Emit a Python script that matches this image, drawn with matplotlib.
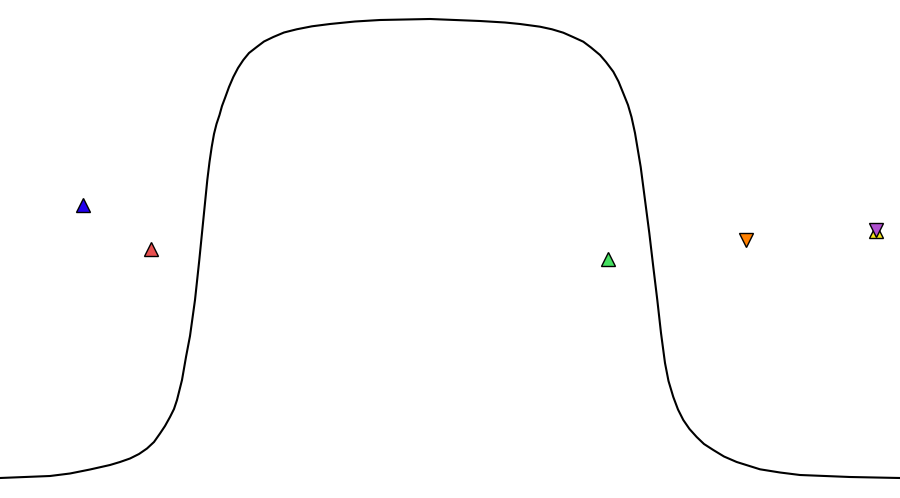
import numpy as np
import matplotlib
matplotlib.use("Agg")
import matplotlib.pyplot as plt

# ===================== DATA =====================
# plateau curve read off the picture; y is measured downward from the top edge
curve_x = [0, 50, 70, 90, 110, 120, 130, 139, 147, 154, 160, 165, 170, 174,
           177, 182, 186, 190, 195, 199.3, 203.3, 207.3, 209.5, 211.7, 214,
           216.5, 219.5, 222, 225, 229, 233.3, 238, 243.3, 249, 256.7, 264,
           273.3, 284, 296.7, 312, 330, 355, 380, 430, 480, 505, 520, 540,
           552, 563.3, 573, 583.3, 591, 600, 606, 613.3, 618.5, 623.3, 628,
           631.5, 635, 640.7, 645, 649.3, 653.3, 657.3, 661, 665, 668.5, 673.3,
           678, 683.3, 689.5, 696.7, 704, 713.3, 724, 736.7, 760, 780, 800,
           850, 900]
curve_y = [478, 476, 473.5, 469.5, 465, 462, 458.5, 454, 448.5, 442, 433.5,
           426, 417, 409, 400, 380, 357, 336, 300, 260, 220, 180, 162, 147,
           134, 124, 115, 106, 98, 87, 77, 68, 60, 53, 47, 41.5, 37, 32.5,
           29.3, 26.3, 24, 21.5, 20, 19, 21, 22.5, 24, 26.7, 29.3, 32.7, 37,
           41.7, 47.5, 55, 62, 71.7, 81.5, 93.3, 105, 117, 133, 167, 200, 233,
           267, 300, 333, 363, 381, 397, 409.5, 420, 429, 437, 444, 450, 456.5,
           462, 469.3, 472.5, 475, 477, 478]

# markers (same downward y)
pt_x = [83, 151, 608, 746, 876, 876]
pt_y = [204.5, 248.5, 259, 240, 231, 230]
pt_shape = ["^", "^", "^", "v", "^", "v"]
pt_color = ["#2200ee", "#e85050", "#44e060", "#ff8000", "#f2e21a", "#b050d0"]

# ===================== PLOT =====================
fig = plt.figure(figsize=(9, 4.98), dpi=100)
ax = fig.add_axes([0, 0, 1, 1])

ax.plot(curve_x, curve_y, color="black", lw=1.5,
        solid_joinstyle="round", solid_capstyle="round")

for x, y, m, c in zip(pt_x, pt_y, pt_shape, pt_color):
    ax.plot(x, y, marker=m, color=c, markersize=10.5,
            markeredgecolor="black", markeredgewidth=1.0, linestyle="none")

ax.set_xlim(0, 900)
ax.set_ylim(498, 0)
ax.axis("off")

fig.savefig("out.png", dpi=100, facecolor="white")
